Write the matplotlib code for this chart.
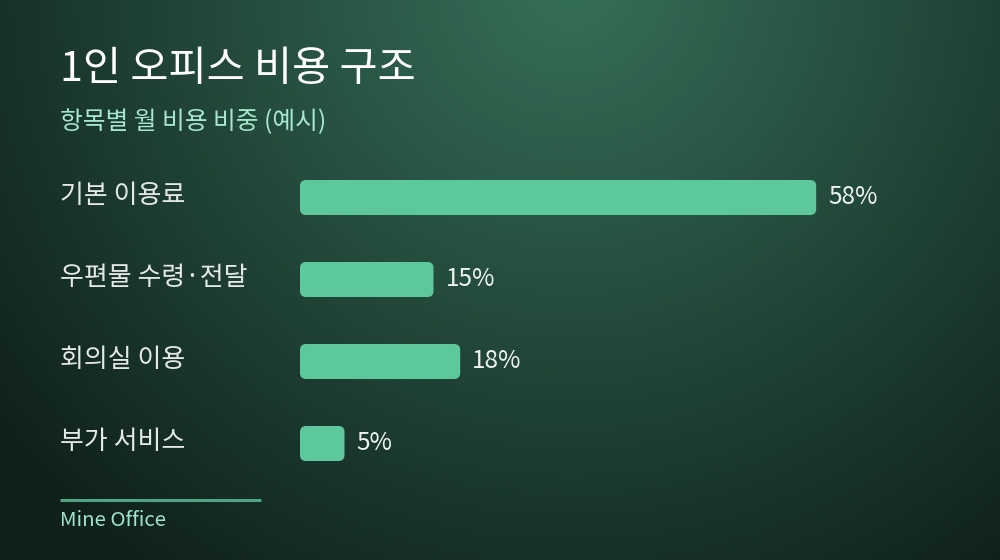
import numpy as np
import matplotlib
matplotlib.use("Agg")
import matplotlib.pyplot as plt
from matplotlib.patches import FancyBboxPatch
from matplotlib.transforms import blended_transform_factory
import matplotlib.colors as mcolors

plt.rcParams['font.family'] = ['Noto Sans CJK KR', 'DejaVu Sans']

# ---- data ----
title = "1인 오피스 비용 구조"
subtitle = "항목별 월 비용 비중 (예시)"
categories = ["기본 이용료", "우편물 수령·전달", "회의실 이용", "부가 서비스"]
values = [58, 15, 18, 5]
value_labels = ["58%", "15%", "18%", "5%"]
footer = "Mine Office"

W, H = 1000, 560
fig = plt.figure(figsize=(W / 100, H / 100), dpi=100)

# ---- background radial gradient ----
bg = fig.add_axes([0, 0, 1, 1], zorder=0)
bg.set_axis_off()
yy, xx = np.mgrid[0:H, 0:W]
d = np.sqrt(((xx - 570) / 1.0) ** 2 + ((yy + 20) / 1.0) ** 2) / 720.0
t = np.clip(d, 0, 1)
c0 = np.array(mcolors.to_rgb("#367059"))
c1 = np.array(mcolors.to_rgb("#10211c"))
img = c0[None, None, :] * (1 - t[..., None]) + c1[None, None, :] * t[..., None]
bg.imshow(img, extent=[0, W, H, 0], aspect="auto")
bg.set_xlim(0, W)
bg.set_ylim(H, 0)

# ---- bar axes ----
px_per_unit = 8.9
left_px, right_px = 300, 1000
top_px, bot_px = 156.5, 484.5
ax = fig.add_axes([left_px / W, 1 - bot_px / H, (right_px - left_px) / W, (bot_px - top_px) / H], zorder=1)
ax.set_facecolor("none")
ax.set_xlim(0, (right_px - left_px) / px_per_unit)
n = len(categories)
ax.set_ylim(n - 0.5, -0.5)
ax.set_axis_off()

row_px = (bot_px - top_px) / n
bar_h = 35 / row_px
rad_px = 6
rs = rad_px / px_per_unit
aspect = px_per_unit / row_px
bar_color = "#5cc89b"
for i, v in enumerate(values):
    p = FancyBboxPatch((0, i - bar_h / 2), v, bar_h,
                       boxstyle=f"round,pad=0,rounding_size={rs}",
                       mutation_aspect=aspect, facecolor=bar_color,
                       edgecolor="none", zorder=2)
    ax.add_patch(p)
    ax.annotate(value_labels[i], xy=(v, i), xytext=(12, 0), textcoords="offset pixels",
                ha="left", va="center", fontsize=17.5, color="#eef3f0")

trans = blended_transform_factory(fig.transFigure, ax.transData)
for i, c in enumerate(categories):
    ax.text(60 / W, i - 0.03, c, transform=trans, ha="left", va="center",
            fontsize=18.7, color="#e4e9e6")

# ---- titles ----
fig.text(60 / W, 1 - 70 / H, title, ha="left", va="center", fontsize=29.8,
         color="#ffffff", fontweight="medium")
fig.text(60 / W, 1 - 122 / H, subtitle, ha="left", va="center", fontsize=17.8,
         color="#a6e8cf")

# ---- footer ----
bg.plot([60, 261], [500, 500], color="#4fa482", linewidth=2.2, solid_capstyle="butt")
fig.text(60 / W, 1 - 521 / H, footer, ha="left", va="center", fontsize=14.7,
         color="#9fe6c9")

fig.savefig("out.png", dpi=100)
